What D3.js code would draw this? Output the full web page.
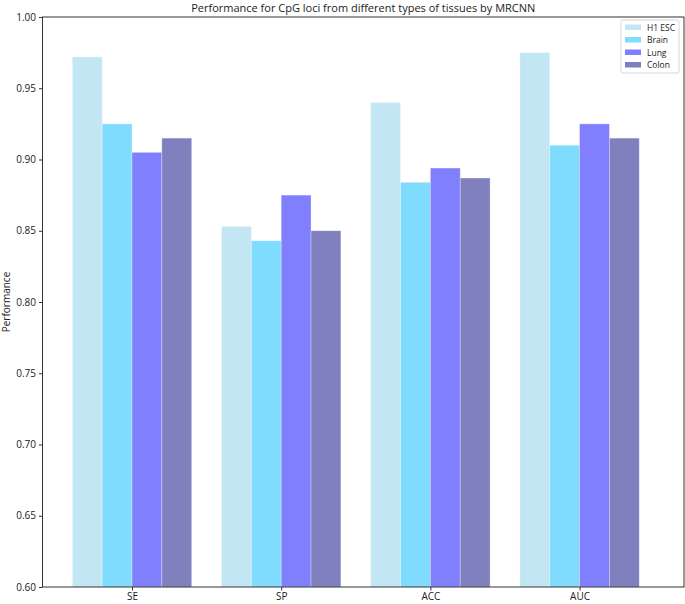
<!DOCTYPE html>
<html lang="en">
<head>
<meta charset="UTF-8">
<title>Performance for CpG loci</title>
<script src="https://d3js.org/d3.v7.min.js"></script>
<style>
  body { margin: 0; background: #fff; }
  text { font-family: "Open Sans", "DejaVu Sans", sans-serif; fill: #222; }
</style>
</head>
<body>
<script>
  // data
  var metrics = ["SE", "SP", "ACC", "AUC"];
  var tissues = ["H1 ESC", "Brain", "Lung", "Colon"];
  var h1esc = [0.972, 0.853, 0.940, 0.975];
  var brain = [0.925, 0.843, 0.884, 0.910];
  var lung  = [0.905, 0.875, 0.894, 0.925];
  var colon = [0.915, 0.850, 0.887, 0.915];
  var yTicks = [0.60, 0.65, 0.70, 0.75, 0.80, 0.85, 0.90, 0.95, 1.00];

  var series = [h1esc, brain, lung, colon];
  var colors = ["#c3e6f5", "#80dcff", "#8080ff", "#8080bf"];

  var W = 685, H = 604;
  var margin = {top: 17, right: 1, bottom: 17, left: 42.5};
  var width = W - margin.left - margin.right,
      height = H - margin.top - margin.bottom;

  var svg = d3.select("body").append("svg")
      .attr("width", W).attr("height", H);
  var g = svg.append("g")
      .attr("transform", "translate(" + margin.left + "," + margin.top + ")");

  // matplotlib-like numeric x positions
  var x = d3.scaleLinear().domain([-0.6, 3.7]).range([0, width]);
  var y = d3.scaleLinear().domain([0.6, 1.0]).range([height, 0]);
  var barW = 0.2;

  series.forEach(function(vals, si) {
    g.selectAll(".bar" + si)
      .data(vals)
      .enter().append("rect")
      .attr("x", function(d, i) { return x(i + (si - 2) * barW); })
      .attr("width", x(barW) - x(0))
      .attr("y", function(d) { return y(d); })
      .attr("height", function(d) { return y(0.6) - y(d); })
      .attr("fill", colors[si])
      .attr("stroke", "#ffffff")
      .attr("stroke-opacity", 0.35)
      .attr("stroke-width", 0.8);
  });

  // axes
  var yAxis = g.append("g")
    .call(d3.axisLeft(y).tickValues(yTicks).tickFormat(d3.format(".2f")).tickSize(3.5).tickPadding(3));
  var xAxis = g.append("g")
    .attr("transform", "translate(0," + height + ")")
    .call(d3.axisBottom(x).tickValues(d3.range(metrics.length))
      .tickFormat(function(d) { return metrics[d]; }).tickSize(3.5).tickPadding(2));
  [yAxis, xAxis].forEach(function(a) {
    a.select(".domain").remove();
    a.selectAll("text").style("font-size", "10px").attr("fill", "#222");
    a.selectAll("line").attr("stroke", "#333");
  });

  // frame
  g.append("rect")
    .attr("width", width).attr("height", height)
    .attr("fill", "none").attr("stroke", "#333").attr("stroke-width", 1);

  // title
  svg.append("text")
    .attr("x", margin.left + width / 2).attr("y", 12)
    .attr("text-anchor", "middle")
    .style("font-size", "11px")
    .text("Performance for CpG loci from different types of tissues by MRCNN");

  // y label
  svg.append("text")
    .attr("transform", "translate(10," + (margin.top + height / 2) + ") rotate(-90)")
    .attr("text-anchor", "middle")
    .style("font-size", "10px")
    .text("Performance");

  // legend
  var lg = svg.append("g").attr("transform", "translate(621,20)");
  lg.append("rect")
    .attr("width", 58).attr("height", 53).attr("rx", 2)
    .attr("fill", "#fff").attr("stroke", "#ccc").attr("stroke-width", 0.8);
  tissues.forEach(function(t, i) {
    var row = lg.append("g").attr("transform", "translate(0," + (7.5 + i * 12.5) + ")");
    row.append("rect")
      .attr("x", 4).attr("y", -3).attr("width", 16).attr("height", 5.5)
      .attr("fill", colors[i]);
    row.append("text")
      .attr("x", 26).attr("y", 3)
      .style("font-size", "8.5px")
      .text(t);
  });
</script>
</body>
</html>
